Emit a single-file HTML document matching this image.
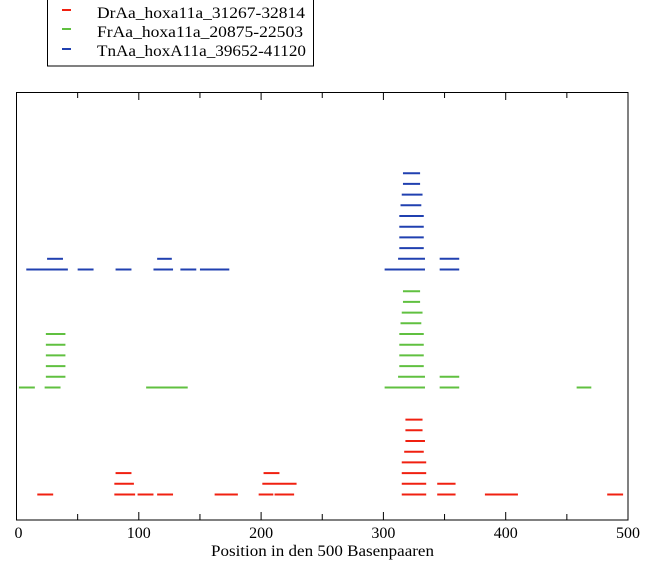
<!DOCTYPE html>
<html><head><meta charset="utf-8"><style>
body{margin:0;background:#fff}
svg{display:block;font-family:"Liberation Serif","DejaVu Serif",serif}
</style></head><body>
<svg id="chart" width="653" height="567" viewBox="0 0 653 567">
<rect x="47.5" y="-1" width="266" height="67" fill="#fff" stroke="#000" stroke-width="1"/>
<g><line x1="62" y1="10" x2="71" y2="10" stroke="#f02010" stroke-width="2"/><text x="97" y="18" font-size="16" textLength="208" lengthAdjust="spacingAndGlyphs">DrAa_hoxa11a_31267-32814</text></g>
<g><line x1="62" y1="29" x2="71" y2="29" stroke="#60c040" stroke-width="2"/><text x="97" y="37" font-size="16" textLength="206" lengthAdjust="spacingAndGlyphs">FrAa_hoxa11a_20875-22503</text></g>
<g><line x1="62" y1="49" x2="71" y2="49" stroke="#2040b0" stroke-width="2"/><text x="97" y="56" font-size="16" textLength="209" lengthAdjust="spacingAndGlyphs">TnAa_hoxA11a_39652-41120</text></g>
<rect x="16.5" y="92.5" width="611.5" height="427.5" fill="none" stroke="#000" stroke-width="1"/>
<g id="ticks"></g>
<g id="marks"></g>
<text x="211" y="556" font-size="16" textLength="223" lengthAdjust="spacingAndGlyphs">Position in den 500 Basenpaaren</text>
</svg>
<script>
const tickLabels = [0,100,200,300,400,500];
const minorTicks = [50,150,250,350,450];
// segments: [level, start, end]
const drSegments = [
 [0,17,30],[0,80,97],[0,99,112],[0,115,128],[0,162,181],[0,198,210],[0,211,227],[0,315,335],[0,344,359],[0,383,410],[0,483,496],
 [1,80,96],[1,201,229],[1,315,335],[1,344,359],
 [2,81,94],[2,202,215],[2,315,335],
 [3,315,335],[4,317,333],[5,318,334],[6,318,332],[7,318,332]
];
const frSegments = [
 [0,2,15],[0,23,36],[0,106,140],[0,301,334],[0,346,362],[0,458,470],
 [1,24,40],[1,312,334],[1,346,362],
 [2,24,40],[2,313,333],[3,24,40],[3,313,333],[4,24,40],[4,313,333],[5,24,40],[5,313,333],
 [6,314,331],[7,315,332],[8,316,330],[9,316,330]
];
const tnSegments = [
 [0,8,42],[0,50,63],[0,81,94],[0,112,128],[0,134,147],[0,150,174],[0,301,334],[0,346,362],
 [1,25,38],[1,115,127],[1,312,334],[1,346,362],
 [2,313,333],[3,313,333],[4,313,333],[5,313,333],[6,314,331],[7,315,332],[8,316,330],[9,316,330]
];
const NS='http://www.w3.org/2000/svg';
const x = v => 16.5 + v*1.223;
const rowStep = 10.7;
const y = (base, lvl) => base - lvl*rowStep;
const ticks = document.getElementById('ticks');
const marks = document.getElementById('marks');
function ln(g,x1,y1,x2,y2,c,w){const l=document.createElementNS(NS,'line');l.setAttribute('x1',x1);l.setAttribute('y1',y1);l.setAttribute('x2',x2);l.setAttribute('y2',y2);l.setAttribute('stroke',c);l.setAttribute('stroke-width',w);g.appendChild(l);return l;}
tickLabels.forEach(t=>{
 const a=ln(ticks,x(t),520,x(t),512,'#000',1);
 
 
 const b=ln(ticks,x(t),92,x(t),100,'#000',1);
 
 
 const tx=document.createElementNS(NS,'text');
 tx.setAttribute('x',x(t)+(t===0?2:0));tx.setAttribute('y',538);tx.setAttribute('font-size','16');tx.setAttribute('text-anchor','middle');
 tx.textContent=t;
 
 
 ticks.appendChild(tx);
});
minorTicks.forEach(t=>{
 const a=ln(ticks,x(t),520,x(t),514,'#000',1);
 
 
 const b=ln(ticks,x(t),92,x(t),98,'#000',1);
 
 
});
function draw(segs,base,color,name){
 segs.forEach(s=>{
  const l=ln(marks,x(s[1]),y(base,s[0]),x(s[2]),y(base,s[0]),color,2);
  
  
 });
}
draw(drSegments,494.5,'#f02010','dr');
draw(frSegments,387.5,'#60c040','fr');
draw(tnSegments,269.5,'#2040b0','tn');
</script>
</body></html>
